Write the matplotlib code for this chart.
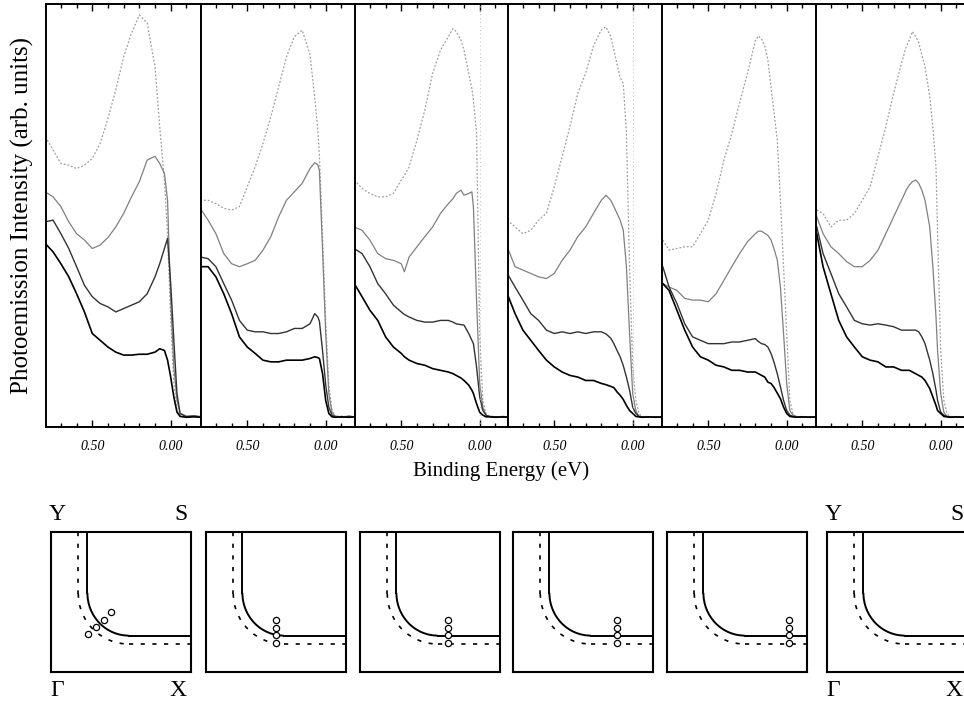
import matplotlib
matplotlib.use("Agg")
import matplotlib.pyplot as plt
from matplotlib.patches import Arc
from matplotlib.ticker import MultipleLocator, FixedLocator, FixedFormatter

plt.rcParams['font.family'] = ['Liberation Serif', 'DejaVu Serif']

# ---------------------
# Spectra: binding energy (eV) and intensity (% of panel height)
# a = lightest (top) ... d = black (bottom)
# ---------------------
energy_1 = [0.8, 0.75, 0.7, 0.65, 0.6, 0.55, 0.5, 0.45, 0.4, 0.35, 0.3, 0.25, 0.2, 0.15, 0.1,
            0.07, 0.04, 0.02, 0.0, -0.02, -0.04, -0.06, -0.1, -0.15, -0.19]
curve_1a = [68.6, 65.5, 62.3, 61.9, 61.1, 61.9, 63.5, 67.0, 72.9, 79.7, 87.5, 93.1, 97.4, 95.5, 85.2,
            71.0, 58.4, 45.4, 25.7, 10.3, 3.9, 2.8, 2.4, 2.5, 2.4]
curve_1b = [55.6, 54.4, 52.1, 48.5, 45.7, 44.2, 42.2, 43.0, 44.8, 47.3, 50.5, 54.4, 58.0, 63.1, 64.0,
            62.3, 59.9, 53.6, 30.0, 14.2, 6.3, 3.2, 2.6, 2.7, 2.5]
curve_1c = [48.5, 48.9, 45.7, 42.2, 37.9, 33.5, 30.8, 29.2, 28.4, 27.2, 28.0, 28.8, 29.6, 31.5, 35.5,
            38.6, 42.2, 44.6, 33.9, 20.5, 7.9, 3.2, 2.4, 2.6, 2.3]
curve_1d = [43.4, 41.4, 38.6, 35.5, 31.5, 27.2, 22.1, 20.5, 18.9, 17.7, 17.0, 17.0, 17.2, 17.2, 17.7,
            18.5, 18.1, 15.8, 11.8, 7.1, 3.5, 2.5, 2.3, 2.4, 2.3]

energy_2 = [0.8, 0.75, 0.7, 0.65, 0.6, 0.55, 0.5, 0.45, 0.4, 0.35, 0.3, 0.25, 0.2, 0.15, 0.1,
            0.07, 0.05, 0.04, 0.02, 0.0, -0.02, -0.04, -0.06, -0.1, -0.15, -0.19]
curve_2a = [53.6, 53.6, 52.8, 51.7, 51.3, 52.1, 56.8, 61.5, 67.0, 73.3, 80.4, 87.5, 92.3, 93.8, 88.0,
            78.0, 70.0, 64.0, 45.0, 25.0, 10.0, 4.0, 2.4, 2.6, 2.3, 2.5]
curve_2b = [51.7, 48.9, 45.7, 41.0, 38.6, 37.9, 38.6, 39.4, 41.8, 45.0, 49.7, 53.6, 55.6, 57.6, 61.1,
            62.5, 62.0, 60.5, 41.8, 22.1, 7.9, 3.5, 2.6, 2.4, 2.6, 2.3]
curve_2c = [40.2, 39.8, 37.9, 33.9, 30.0, 25.2, 22.9, 22.5, 22.5, 22.1, 22.1, 22.5, 23.3, 23.3, 24.4,
            26.8, 26.0, 25.0, 18.0, 10.0, 4.7, 2.8, 2.4, 2.3, 2.5, 2.4]
curve_2d = [37.9, 37.9, 35.5, 31.5, 26.8, 21.3, 18.9, 17.4, 15.8, 15.4, 15.4, 15.8, 15.8, 15.8, 16.2,
            16.6, 16.4, 16.2, 12.6, 6.3, 3.2, 2.4, 2.3, 2.4, 2.3, 2.4]

energy_3 = [0.8, 0.75, 0.7, 0.65, 0.6, 0.55, 0.5, 0.48, 0.45, 0.4, 0.35, 0.3, 0.25, 0.2, 0.17,
            0.15, 0.12, 0.1, 0.07, 0.05, 0.04, 0.02, 0.0, -0.02, -0.04, -0.06, -0.1, -0.15, -0.19]
curve_3a = [58.4, 56.4, 55.2, 54.4, 54.4, 55.2, 58.4, 59.5, 61.5, 67.8, 74.9, 83.6, 89.1, 92.3, 94.2,
            93.5, 91.5, 89.1, 83.6, 80.0, 77.3, 69.4, 22.1, 6.3, 3.2, 2.6, 2.4, 2.5, 2.4]
curve_3b = [47.3, 46.5, 44.2, 41.0, 39.8, 39.4, 38.6, 36.7, 40.2, 42.6, 45.0, 47.3, 50.5, 52.8, 54.0,
            55.2, 56.0, 54.8, 55.2, 55.6, 52.0, 30.0, 10.3, 4.7, 2.8, 2.5, 2.4, 2.5, 2.3]
curve_3c = [42.2, 41.0, 37.9, 33.9, 31.5, 28.8, 27.2, 26.6, 26.0, 25.2, 24.8, 24.8, 25.2, 25.2, 24.8,
            24.4, 24.2, 24.1, 22.1, 20.5, 19.7, 14.2, 7.1, 3.9, 2.8, 2.5, 2.4, 2.3, 2.4]
curve_3d = [33.9, 30.8, 27.6, 25.2, 21.3, 18.9, 17.4, 16.6, 15.8, 15.0, 14.6, 13.8, 13.4, 13.0, 12.6,
            12.2, 11.6, 11.0, 9.9, 8.7, 7.9, 5.5, 3.5, 2.8, 2.4, 2.4, 2.3, 2.4, 2.3]

energy_4 = [0.8, 0.75, 0.7, 0.65, 0.6, 0.55, 0.5, 0.45, 0.4, 0.35, 0.3, 0.25, 0.2, 0.17, 0.14,
            0.12, 0.1, 0.08, 0.06, 0.04, 0.02, 0.0, -0.02, -0.04, -0.06, -0.1, -0.15, -0.19]
curve_4a = [48.9, 47.3, 45.7, 46.5, 48.9, 50.5, 56.8, 63.9, 71.0, 78.9, 83.6, 90.1, 93.9, 94.6, 92.3,
            89.1, 85.8, 82.6, 81.2, 69.4, 37.9, 14.2, 6.3, 3.2, 2.4, 2.5, 2.3, 2.4]
curve_4b = [42.6, 37.9, 37.1, 36.3, 35.5, 35.1, 36.3, 39.4, 41.8, 45.0, 47.3, 50.5, 53.6, 54.8, 53.6,
            52.1, 50.5, 48.9, 46.5, 37.9, 22.1, 7.9, 3.9, 2.5, 2.4, 2.3, 2.4, 2.3]
curve_4c = [36.3, 33.1, 30.0, 26.8, 25.2, 22.9, 22.1, 22.5, 22.1, 22.5, 22.1, 22.5, 22.5, 22.0, 21.0,
            19.7, 18.1, 16.6, 14.5, 11.8, 8.7, 4.7, 3.2, 2.5, 2.4, 2.3, 2.4, 2.3]
curve_4d = [31.5, 26.8, 22.9, 20.5, 18.1, 15.8, 14.2, 13.0, 12.2, 11.8, 11.0, 11.0, 10.3, 10.0, 9.6,
            9.3, 8.3, 7.5, 6.5, 5.1, 3.9, 3.2, 2.5, 2.4, 2.3, 2.4, 2.3, 2.4]

energy_5 = [0.79, 0.75, 0.7, 0.65, 0.6, 0.55, 0.5, 0.45, 0.4, 0.35, 0.3, 0.25, 0.2, 0.18, 0.16,
            0.14, 0.12, 0.1, 0.08, 0.06, 0.04, 0.02, 0.0, -0.02, -0.04, -0.06, -0.1, -0.15, -0.19]
curve_5a = [44.2, 41.8, 42.2, 42.6, 42.6, 45.7, 48.9, 55.2, 63.1, 69.4, 76.7, 83.6, 91.3, 92.5, 91.7,
            90.1, 86.8, 80.4, 74.1, 67.8, 53.6, 37.9, 22.1, 6.3, 3.2, 2.4, 2.5, 2.3, 2.4]
curve_5b = [33.9, 33.1, 32.3, 30.4, 30.0, 30.0, 29.6, 31.5, 34.7, 37.9, 41.0, 43.8, 45.7, 46.3, 46.3,
            45.8, 45.3, 44.2, 42.0, 39.5, 33.1, 22.1, 10.3, 3.9, 2.8, 2.5, 2.4, 2.3, 2.4]
curve_5c = [37.9, 33.1, 29.2, 24.4, 21.3, 20.5, 19.7, 19.7, 19.7, 20.1, 20.1, 20.5, 20.9, 20.2, 19.7,
            19.5, 18.9, 17.4, 15.2, 12.6, 9.5, 6.3, 3.9, 2.8, 2.5, 2.4, 2.3, 2.4, 2.3]
curve_5d = [33.9, 32.3, 27.6, 22.9, 18.9, 16.6, 15.8, 14.6, 14.2, 13.4, 13.4, 13.0, 13.0, 12.6, 12.2,
            11.8, 10.6, 10.3, 9.3, 8.0, 6.7, 4.7, 3.2, 2.5, 2.4, 2.3, 2.4, 2.3, 2.4]

energy_6 = [0.79, 0.75, 0.7, 0.65, 0.6, 0.55, 0.5, 0.45, 0.4, 0.35, 0.3, 0.25, 0.22, 0.2, 0.18,
            0.16, 0.14, 0.12, 0.1, 0.07, 0.05, 0.03, 0.02, 0.0, -0.02, -0.04, -0.06, -0.1, -0.15]
curve_6a = [51.3, 50.5, 47.3, 48.9, 48.9, 50.5, 53.6, 56.8, 63.9, 71.0, 78.9, 86.0, 89.9, 91.5, 93.5,
            92.3, 90.9, 87.9, 85.2, 78.1, 71.0, 61.5, 45.7, 18.1, 6.3, 3.2, 2.4, 2.5, 2.4]
curve_6b = [49.7, 45.7, 42.6, 41.0, 39.1, 37.9, 37.9, 39.4, 41.8, 45.7, 49.7, 53.6, 56.0, 57.2, 58.0,
            58.4, 57.6, 56.0, 53.6, 47.3, 37.9, 26.0, 18.1, 7.9, 3.5, 2.5, 2.4, 2.3, 2.4]
curve_6c = [47.3, 41.0, 36.3, 31.5, 28.4, 25.2, 24.4, 24.1, 24.4, 24.1, 23.7, 22.9, 22.9, 22.9, 22.9,
            22.9, 22.5, 21.3, 19.7, 15.8, 12.6, 8.7, 6.3, 3.5, 2.8, 2.5, 2.4, 2.3, 2.4]
curve_6d = [45.7, 37.9, 31.5, 25.2, 21.3, 18.9, 16.6, 15.8, 15.4, 14.2, 14.2, 13.4, 13.4, 13.4, 13.0,
            12.6, 12.2, 11.8, 11.0, 9.1, 7.1, 5.1, 3.9, 3.2, 2.5, 2.4, 2.3, 2.4, 2.3]

energies = [energy_1, energy_2, energy_3, energy_4, energy_5, energy_6]
curves = [
    [curve_1a, curve_1b, curve_1c, curve_1d],
    [curve_2a, curve_2b, curve_2c, curve_2d],
    [curve_3a, curve_3b, curve_3c, curve_3d],
    [curve_4a, curve_4b, curve_4c, curve_4d],
    [curve_5a, curve_5b, curve_5c, curve_5d],
    [curve_6a, curve_6b, curve_6c, curve_6d],
]
fermi_marker = [False, False, True, True, False, False]

# ---------------------
# Brillouin-zone k-points (fractions of Gamma-X / Gamma-Y)
# ---------------------
kpts_x = [[0.267, 0.321, 0.376, 0.431], [0.50] * 4, [0.63] * 4, [0.74] * 4, [0.87] * 4, []]
kpts_y = [[0.268, 0.323, 0.375, 0.428], [0.206, 0.261, 0.316, 0.371], [0.206, 0.261, 0.316, 0.371],
          [0.206, 0.261, 0.316, 0.371], [0.206, 0.261, 0.316, 0.371], []]

# ---------------------
# Figure
# ---------------------
W, H = 964, 702
fig = plt.figure(figsize=(W / 100, H / 100), dpi=100)

styles = [
    dict(color='0.62', lw=0.9, ls=(0, (1.5, 1.5))),
    dict(color='0.5', lw=0.9, ls='-'),
    dict(color='0.2', lw=1.0, ls='-'),
    dict(color='black', lw=1.2, ls='-'),
]

top_left = [46, 201, 355, 508, 662, 816]
for i, left in enumerate(top_left):
    ax = fig.add_axes([left / W, 1 - 427 / H, 154.5 / W, 423 / H])
    for c, st in zip(curves[i], styles):
        ax.plot(energies[i], c, **st)
    if fermi_marker[i]:
        ax.axvline(0.0, color='0.75', lw=0.7, ls=(0, (1, 3)))
    ax.set_xlim(0.795, -0.19)
    ax.set_ylim(0, 100)
    ax.xaxis.set_major_locator(FixedLocator([0.5, 0.0]))
    ax.xaxis.set_major_formatter(FixedFormatter(['0.50', '0.00']))
    ax.xaxis.set_minor_locator(MultipleLocator(0.1))
    ax.tick_params(axis='x', which='both', direction='in', top=True, bottom=True, width=1.0)
    ax.tick_params(axis='x', which='major', length=5, pad=9, labelsize=10)
    ax.tick_params(axis='x', which='minor', length=3)
    ax.set_yticks([])
    for lab in ax.get_xticklabels():
        lab.set_fontstyle('italic')
    for sp in ax.spines.values():
        sp.set_linewidth(1.4)

fig.text(22 / W, 1 - 215 / H, 'Photoemission Intensity (arb. units)', rotation=90,
         ha='center', va='center', fontsize=18)
fig.text(501 / W, 1 - 471 / H, 'Binding Energy (eV)', ha='center', va='center', fontsize=15)

# ---------------------
# Brillouin-zone sketches
# ---------------------
bz_left = [51, 206, 360, 513, 667, 827]
for i, left in enumerate(bz_left):
    ax = fig.add_axes([left / W, 1 - 672 / H, 140 / W, 140 / H])
    ax.set_xlim(0, 1)
    ax.set_ylim(0, 1)
    ax.set_xticks([])
    ax.set_yticks([])
    for sp in ax.spines.values():
        sp.set_linewidth(1.5)
    # solid contour
    ax.plot([0.26, 0.26], [1.0, 0.565], color='black', lw=1.4)
    ax.add_patch(Arc((0.555, 0.565), 0.59, 0.61, theta1=180, theta2=270, color='black', lw=1.4))
    ax.plot([0.555, 1.0], [0.26, 0.26], color='black', lw=1.4)
    # dashed contour
    dash = dict(color='black', lw=1.2, ls=(0, (2.5, 4.5)))
    ax.plot([0.195, 0.195], [1.0, 0.56], **dash)
    ax.add_patch(Arc((0.555, 0.56), 0.72, 0.72, theta1=180, theta2=270, **dash))
    ax.plot([0.555, 1.0], [0.20, 0.20], **dash)
    ax.plot(kpts_x[i], kpts_y[i], 'o', ms=4.5, mfc='white', mec='black', mew=0.9)

for x0 in (51, 827):
    fig.text((x0 + 6) / W, 1 - 515 / H, 'Y', ha='center', va='center', fontsize=17)
    fig.text((x0 + 130) / W, 1 - 515 / H, 'S', ha='center', va='center', fontsize=17)
    fig.text((x0 + 6) / W, 1 - 690 / H, '\u0393', ha='center', va='center', fontsize=17)
    fig.text((x0 + 127) / W, 1 - 690 / H, 'X', ha='center', va='center', fontsize=17)

fig.savefig('out.png', dpi=100)
